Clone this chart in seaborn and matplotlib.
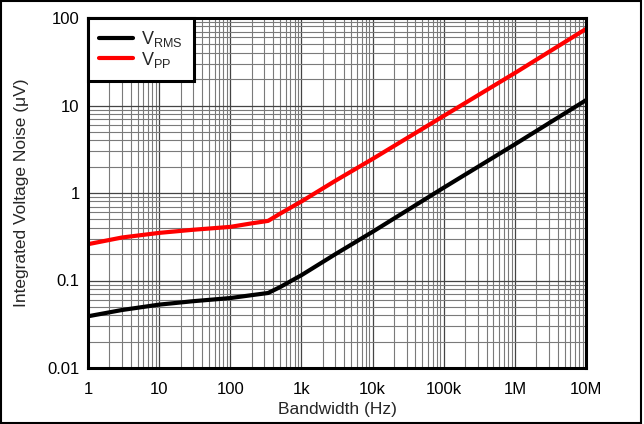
import numpy as np
import pandas as pd
import matplotlib
matplotlib.use('Agg')
import matplotlib.pyplot as plt
import seaborn as sns
from matplotlib.patches import Rectangle
from matplotlib.ticker import FixedLocator, LogLocator, NullFormatter

# Bandwidth (Hz) and integrated noise (uV)
bandwidth = [1, 3, 10, 30, 100, 200, 340, 500, 1000, 3000, 10000, 100000, 1000000, 10000000]
v_rms = [0.039, 0.046, 0.053, 0.058, 0.063, 0.068, 0.072, 0.084, 0.115, 0.20, 0.36, 1.15, 3.6, 11.5]
v_pp = [0.26, 0.31, 0.35, 0.38, 0.41, 0.45, 0.48, 0.58, 0.80, 1.38, 2.45, 7.6, 23.5, 75]

x_ticks = [1, 10, 100, 1e3, 1e4, 1e5, 1e6, 1e7]
x_labels = ['1', '10', '100', '1k', '10k', '100k', '1M', '10M']
y_ticks = [0.01, 0.1, 1, 10, 100]
y_labels = ['0.01', '0.1', '1', '10', '100']

df = pd.DataFrame({
    'Bandwidth': bandwidth * 2,
    'Noise': v_rms + v_pp,
    'Series': ['$\\mathregular{V_{RMS}}$'] * len(bandwidth) + ['$\\mathregular{V_{PP}}$'] * len(bandwidth),
})

sns.set_style('white')
plt.rcParams['font.family'] = ['Liberation Sans', 'DejaVu Sans']
plt.rcParams['mathtext.fontset'] = 'custom'
plt.rcParams['mathtext.rm'] = 'Liberation Sans'

fig = plt.figure(figsize=(6.44, 4.24), dpi=100)
# thin frame round the whole picture
fig.patches.append(Rectangle((1 / 644, 1 / 424), 640 / 644, 422 / 424, transform=fig.transFigure,
                             fill=False, edgecolor='black', linewidth=1.5))
ax = fig.add_axes([88 / 644, 56 / 424, 498 / 644, 350 / 424])

sns.lineplot(data=df, x='Bandwidth', y='Noise', hue='Series',
             palette=['black', 'red'], linewidth=3, ax=ax)

ax.set_xscale('log')
ax.set_yscale('log')
ax.set_xlim(1, 1e7)
ax.set_ylim(0.01, 100)

ax.xaxis.set_major_locator(FixedLocator(x_ticks))
ax.set_xticklabels(x_labels)
ax.yaxis.set_major_locator(FixedLocator(y_ticks))
ax.set_yticklabels(y_labels)
ax.xaxis.set_minor_locator(LogLocator(base=10, subs=np.arange(2, 10), numticks=20))
ax.yaxis.set_minor_locator(LogLocator(base=10, subs=np.arange(2, 10), numticks=20))
ax.xaxis.set_minor_formatter(NullFormatter())
ax.yaxis.set_minor_formatter(NullFormatter())

ax.grid(which='major', color='#444444', linewidth=0.9)
ax.grid(which='minor', color='#7a7a7a', linewidth=0.8)
ax.set_axisbelow(True)
ax.tick_params(which='both', length=0, labelsize=12, colors='black')
ax.tick_params(axis='x', pad=10)
ax.tick_params(axis='y', pad=6)

for sp in ax.spines.values():
    sp.set_visible(True)
    sp.set_color('black')
    sp.set_linewidth(2.2)

ax.set_xlabel('Bandwidth (Hz)', fontsize=12.5, labelpad=4)
ax.set_ylabel('Integrated Voltage Noise (\u03bcV)', fontsize=12.5, labelpad=13)

leg = ax.legend(title=None, loc='upper left', fontsize=13, fancybox=False,
                framealpha=1, borderaxespad=0, handlelength=1.9,
                handletextpad=0.45, borderpad=0.6, labelspacing=0.05)
leg.get_frame().set_edgecolor('black')
leg.get_frame().set_linewidth(2.2)

fig.savefig('out.png', dpi=100)
